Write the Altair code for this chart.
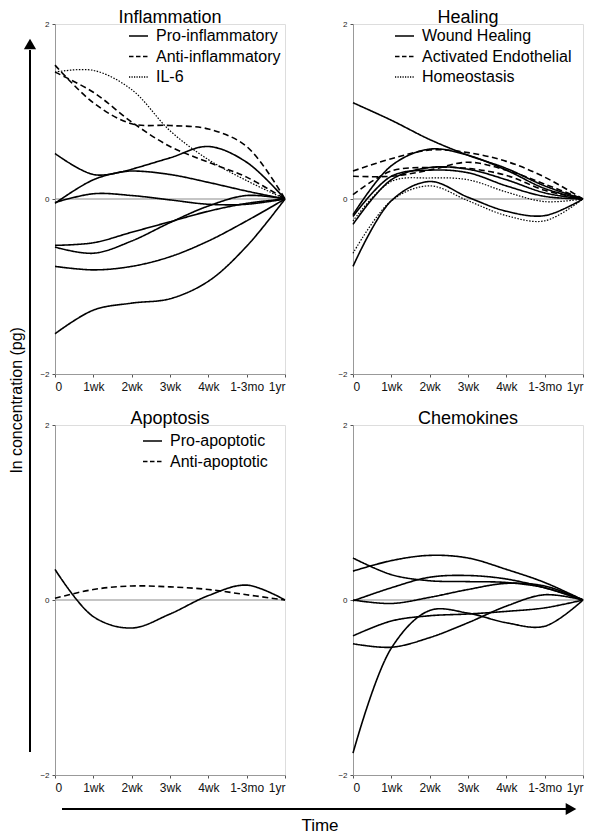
import altair as alt
import pandas as pd

FONT = "Liberation Sans"
NARROW = "Liberation Sans Narrow, Liberation Sans, Arial"

x_labels = ["0", "1wk", "2wk", "3wk", "4wk", "1-3mo", "1yr"]

# ---- Inflammation ----
inflam_pro = [
    [0.52, 0.28, 0.32, 0.28, 0.19, 0.09, 0.0],
    [-0.05, 0.22, 0.34, 0.47, 0.60, 0.42, 0.0],
    [-0.04, 0.06, 0.04, -0.01, -0.06, -0.06, 0.0],
    [-0.53, -0.50, -0.38, -0.26, -0.14, -0.05, 0.0],
    [-0.55, -0.62, -0.48, -0.27, -0.08, 0.04, 0.0],
    [-0.77, -0.81, -0.77, -0.66, -0.48, -0.25, 0.0],
    [-1.54, -1.27, -1.19, -1.14, -0.94, -0.54, 0.0],
]
inflam_anti = [
    [1.53, 1.10, 0.86, 0.84, 0.80, 0.60, 0.0],
    [1.45, 1.22, 0.88, 0.60, 0.42, 0.25, 0.0],
]
inflam_il6 = [
    [1.45, 1.47, 1.25, 0.78, 0.45, 0.21, 0.0],
]

# ---- Healing ----
heal_wound = [
    [1.10, 0.90, 0.68, 0.50, 0.35, 0.15, 0.0],
    [-0.18, 0.38, 0.57, 0.50, 0.33, 0.12, 0.0],
    [-0.29, 0.22, 0.36, 0.34, 0.22, 0.07, 0.0],
    [-0.20, 0.26, 0.33, 0.30, 0.15, 0.03, 0.0],
    [-0.77, -0.02, 0.20, 0.02, -0.14, -0.19, 0.0],
]
heal_endo = [
    [0.32, 0.46, 0.56, 0.53, 0.43, 0.25, 0.0],
    [0.26, 0.26, 0.33, 0.42, 0.33, 0.17, 0.0],
    [0.05, 0.32, 0.36, 0.35, 0.27, 0.10, 0.0],
]
heal_homeo = [
    [-0.62, -0.02, 0.15, -0.02, -0.19, -0.25, 0.0],
    [-0.25, 0.20, 0.24, 0.22, 0.08, -0.03, 0.0],
]

# ---- Apoptosis ----
apo_pro = [
    [0.35, -0.19, -0.32, -0.16, 0.05, 0.17, 0.0],
]
apo_anti = [
    [0.02, 0.12, 0.16, 0.15, 0.12, 0.06, 0.0],
]

# ---- Chemokines ----
chemo = [
    [0.33, 0.45, 0.51, 0.48, 0.35, 0.20, 0.0],
    [0.48, 0.29, 0.22, 0.21, 0.20, 0.14, 0.0],
    [-0.01, 0.14, 0.26, 0.28, 0.24, 0.14, 0.0],
    [0.00, -0.04, 0.03, 0.12, 0.19, 0.16, 0.0],
    [-0.41, -0.24, -0.18, -0.16, -0.13, -0.09, 0.0],
    [-0.50, -0.54, -0.43, -0.26, -0.07, 0.06, 0.0],
    [-1.75, -0.55, -0.12, -0.15, -0.26, -0.30, 0.0],
]

DASH = {"solid": [1, 0], "dashed": [6, 3.5], "dotted": [1.5, 1.5]}
WIDTH = {"solid": 1.6, "dashed": 1.6, "dotted": 1.2}
LEG_DASH = {"solid": [1, 0], "dashed": [4.5, 2.5], "dotted": [1.2, 1.3]}

PW, PH = 230, 350

label_expr = "[" + ",".join("'%s'" % s for s in x_labels) + "][datum.value]"

xenc = alt.X(
    "x:Q",
    scale=alt.Scale(domain=[0, 6], nice=False, zero=False),
    axis=alt.Axis(values=list(range(7)), labelExpr=label_expr, title=None, grid=False,
                  labelFont=NARROW, labelFontSize=12, labelColor="#111",
                  tickSize=3, labelPadding=4, domainColor="#999", tickColor="#555"),
)
yenc = alt.Y(
    "v:Q",
    scale=alt.Scale(domain=[-2, 2], nice=False, zero=False),
    axis=alt.Axis(values=[-2, 0, 2], title=None, grid=False, labelFont=FONT,
                  labelFontSize=8, labelColor="#222", tickSize=3, labelPadding=3,
                  domainColor="#999", tickColor="#555"),
)


def panel(title, groups, legend, leg_x, leg_y0, extra=None):
    layers = []
    zero = alt.Chart(pd.DataFrame({"v": [0.0]})).mark_rule(
        color="#8c8c8c", strokeWidth=1.2).encode(y=yenc)
    layers.append(zero)
    for style, series in groups:
        rows = []
        for i, s in enumerate(series):
            for xi, v in enumerate(s):
                rows.append({"x": xi, "v": v, "id": "%s%d" % (style, i)})
        df = pd.DataFrame(rows)
        layers.append(
            alt.Chart(df).mark_line(
                interpolate="catmull-rom", color="black",
                strokeWidth=WIDTH[style], strokeDash=DASH[style],
            ).encode(x=xenc, y=yenc, detail="id:N")
        )
    for k, (lab, style) in enumerate(legend):
        yy = leg_y0 + k * 20.5
        d = pd.DataFrame({"l": [lab]})
        layers.append(
            alt.Chart(d).mark_rule(color="black", strokeWidth=1.4,
                                   strokeDash=LEG_DASH[style]).encode(
                x=alt.value(leg_x), x2=alt.value(leg_x + 19), y=alt.value(yy))
        )
        layers.append(
            alt.Chart(d).mark_text(align="left", baseline="middle", fontSize=16,
                                   font=FONT, color="black").encode(
                x=alt.value(leg_x + 27), y=alt.value(yy), text="l:N")
        )
    if extra:
        layers.extend(extra)
    return alt.layer(*layers).properties(
        width=PW, height=PH,
        title=alt.TitleParams(title, fontSize=18, font=FONT, fontWeight="normal",
                              color="black", offset=-7),
    )


# decorations (figure-level arrows and labels), drawn relative to the first panel
one = pd.DataFrame({"t": ["Time"]})
deco = [
    alt.Chart(one).mark_rule(color="black", strokeWidth=2).encode(
        x=alt.value(-25), y=alt.value(26), y2=alt.value(728)),
    alt.Chart(one).mark_point(shape="triangle-up", filled=True, size=150,
                              color="black", opacity=1).encode(
        x=alt.value(-25), y=alt.value(20)),
    alt.Chart(one).mark_rule(color="black", strokeWidth=2).encode(
        x=alt.value(7), x2=alt.value(512), y=alt.value(785)),
    alt.Chart(one).mark_point(shape="triangle-right", filled=True, size=150,
                              color="black", opacity=1).encode(
        x=alt.value(516), y=alt.value(785)),
    alt.Chart(one).mark_text(fontSize=17, font=FONT, color="black",
                             baseline="middle", align="center").encode(
        x=alt.value(265), y=alt.value(802), text="t:N"),
    alt.Chart(pd.DataFrame({"t": ["ln concentration (pg)"]})).mark_text(
        fontSize=16, font=FONT, color="black", angle=270,
        baseline="middle", align="center").encode(
        x=alt.value(-38), y=alt.value(376), text="t:N"),
]

p1 = panel("Inflammation",
           [("solid", inflam_pro), ("dashed", inflam_anti), ("dotted", inflam_il6)],
           [("Pro-inflammatory", "solid"), ("Anti-inflammatory", "dashed"), ("IL-6", "dotted")],
           74, 12, extra=deco)
p2 = panel("Healing",
           [("solid", heal_wound), ("dashed", heal_endo), ("dotted", heal_homeo)],
           [("Wound Healing", "solid"), ("Activated Endothelial", "dashed"), ("Homeostasis", "dotted")],
           42, 12)
p3 = panel("Apoptosis",
           [("solid", apo_pro), ("dashed", apo_anti)],
           [("Pro-apoptotic", "solid"), ("Anti-apoptotic", "dashed")],
           88, 16)
p4 = panel("Chemokines", [("solid", chemo)], [], 0, 0)

chart = alt.concat(
    p1, p2, p3, p4, columns=2,
    spacing=alt.RowColnumber(row=51, column=68), bounds="flush",
).properties(
    padding=0,
    autosize=alt.AutoSizeParams(type="pad"),
).configure_view(
    stroke="#999", strokeWidth=1
).configure_axis(
    grid=False
).configure(background="white")

chart.save("out.html", embed_options={"renderer": "svg", "actions": False})
